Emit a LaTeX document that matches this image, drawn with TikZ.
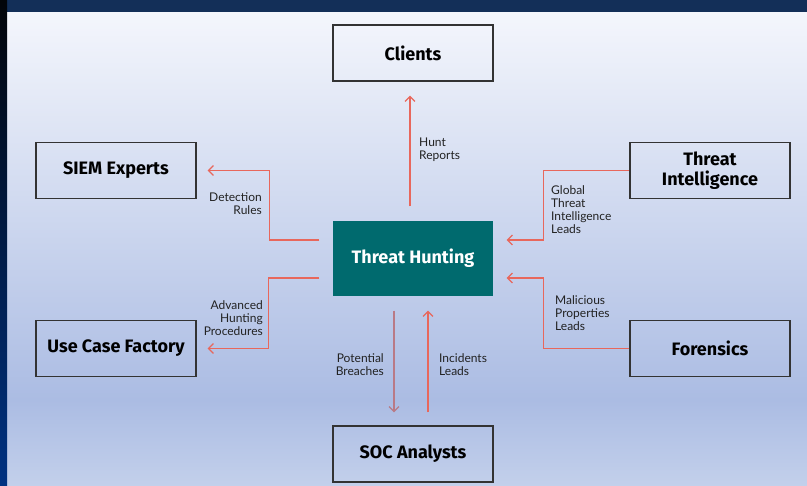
\documentclass[tikz,border=0pt]{standalone}
\usepackage{fontspec}
\setmainfont{Lato}
\newfontfamily\boxfont{Fira Sans}[UprightFont={* Bold}]
\usetikzlibrary{arrows.meta,calc}
\definecolor{arr}{HTML}{E8675C}
\definecolor{arrgray}{HTML}{B97A86}
\definecolor{teal}{HTML}{006A6E}
\definecolor{boxline}{HTML}{333333}
\definecolor{bgtop}{HTML}{F4F6FC}
\definecolor{bgmid}{HTML}{ABBCE3}
\definecolor{bgbot}{HTML}{C3D0EB}
\definecolor{navy}{HTML}{132F58}
\definecolor{labeltext}{HTML}{222222}
\begin{document}
\begin{tikzpicture}[x=1pt,y=-1pt,
  entity/.style={draw=boxline, line width=1.2pt, minimum width=160pt, minimum height=56pt,
    align=center, font=\boxfont\fontsize{18}{20}\selectfont, text=black, inner sep=0pt},
  hub/.style={entity, fill=teal, draw=none, minimum height=75pt, text=white},
  flow/.style={draw=arr, line width=1.4pt, -{Straight Barb[length=5pt,width=10pt,line width=1.2pt]}},
  lbl/.style={font=\fontsize{12}{13}\selectfont, text=labeltext, inner sep=0pt}
]
\useasboundingbox (0,0) rectangle (807,486);
% background
\shade[top color=bgtop, bottom color=bgmid] (0,12) rectangle (807,400);
\shade[top color=bgmid, bottom color=bgbot] (0,400) rectangle (807,486);
\fill[navy] (0,0) rectangle (807,12);
\shade[top color=black!90!navy, bottom color={rgb,255:red,0;green,50;blue,130}] (0,0) rectangle (7,486);

% nodes
\node[entity] (clients) at (413,53) {Clients};
\node[entity] (siem) at (116,170.5) {SIEM Experts};
\node[entity] (ti) at (710,170.5) {Threat\\Intelligence};
\node[hub] (th) at (413,258.5) {Threat Hunting};
\node[entity] (ucf) at (116,348.5) {Use Case Factory};
\node[entity] (for) at (710,348.5) {Forensics};
\node[entity] (soc) at (413,454) {SOC Analysts};

% connectors
\draw[flow, shorten <=14pt, shorten >=14pt] ($(th.north)+(-3,0)$) -- ($(clients.south)+(-3,0)$);
\draw[flow, shorten <=13pt, shorten >=11pt] ($(th.west)+(0,-18.5)$) -- ++(-63,0) |- (siem.east);
\draw[flow, shorten >=13pt] (ti.west) -- ++(-86,0) |- ($(th.east)+(0,-18.5)$);
\draw[flow, shorten <=13pt, shorten >=11pt] ($(th.west)+(0,19.5)$) -- ++(-64,0) |- (ucf.east);
\draw[flow, shorten >=13pt] (for.west) -- ++(-86,0) |- ($(th.east)+(0,19.5)$);
\draw[flow, draw=arrgray, line width=1.1pt, shorten <=14pt, shorten >=13pt] ($(th.south)+(-19,0)$) -- ($(soc.north)+(-19,0)$);
\draw[flow, shorten <=13pt, shorten >=14pt] ($(soc.north)+(15,0)$) -- ($(th.south)+(15,0)$);

% labels
\node[lbl, anchor=west, align=left] (lhunt) at (419,149.5) {Hunt\\Reports};
\node[lbl, anchor=east, align=right] (ldet) at (262,203.5) {Detection\\Rules};
\node[lbl, anchor=west, align=left] (lgti) at (551,209.5) {Global\\Threat\\Intelligence\\Leads};
\node[lbl, anchor=east, align=right] (ladv) at (263,318) {Advanced\\Hunting\\Procedures};
\node[lbl, anchor=west, align=left] (lmal) at (555,313) {Malicious\\Properties\\Leads};
\node[lbl, anchor=east, align=right] (lpot) at (384,364.5) {Potential\\Breaches};
\node[lbl, anchor=west, align=left] (linc) at (439,364.5) {Incidents\\Leads};
\end{tikzpicture}
\end{document}
